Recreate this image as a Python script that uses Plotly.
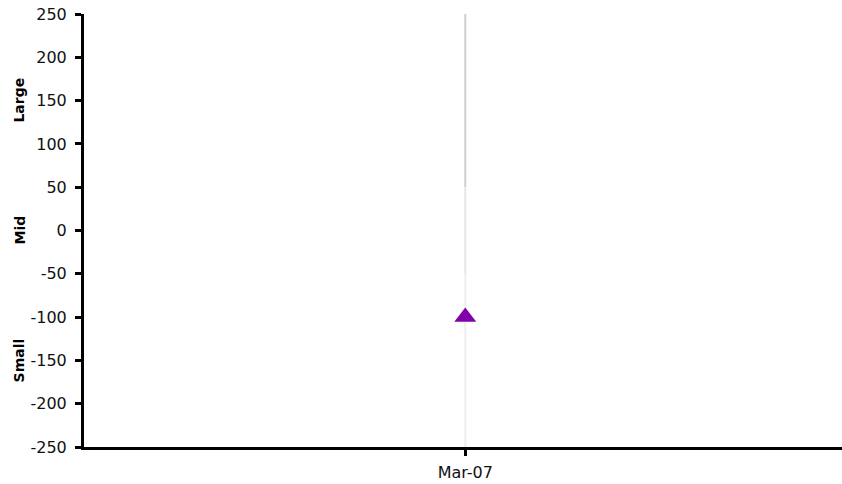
import plotly.graph_objects as go

categories = ["Mar-07"]
values = [-100]
band_edges = [250, 50, -50, -250]
band_colors = ["#cfcfcf", "#e6e6e6", "#efefef"]
band_labels = ["Large", "Mid", "Small"]
band_centers = [150, 0, -150]
tick_vals = [250, 200, 150, 100, 50, 0, -50, -100, -150, -200, -250]
tick_text = [str(v) for v in tick_vals]

fig = go.Figure()
for i, col in enumerate(band_colors):
    fig.add_trace(go.Scatter(
        x=[categories[0], categories[0]],
        y=[band_edges[i], band_edges[i + 1]],
        mode="lines", line=dict(color=col, width=2),
        hoverinfo="skip", showlegend=False))

fig.add_trace(go.Scatter(
    x=categories, y=values, mode="markers",
    marker=dict(symbol="triangle-up", size=19, color="#8200a8"),
    showlegend=False))

for lab, c in zip(band_labels, band_centers):
    fig.add_annotation(x=0.0, xref="paper", xanchor="center", xshift=-65,
                       y=c, yref="y", text=f"<b>{lab}</b>", textangle=-90,
                       showarrow=False, font=dict(size=14, color="black"))

fig.update_layout(
    width=842, height=484,
    margin=dict(l=84, r=0, t=14, b=37),
    plot_bgcolor="white", paper_bgcolor="white",
    font=dict(family="DejaVu Sans, Verdana, sans-serif", size=16, color="#111"),
    xaxis=dict(type="category", range=[-0.503, 0.497], showgrid=False, zeroline=False,
               automargin=False, ticklabeloverflow="allow", ticklabelstandoff=3,
               showline=True, linecolor="black", linewidth=3,
               ticks="outside", ticklen=6, tickwidth=3, tickcolor="black"),
    yaxis=dict(range=[-250, 250], tickvals=tick_vals, ticktext=tick_text,
               showgrid=False, zeroline=False, automargin=False,
               ticklabeloverflow="allow", ticklabelstandoff=5,
               showline=True, linecolor="black", linewidth=3,
               ticks="outside", ticklen=6, tickwidth=3, tickcolor="black"),
)
fig.write_html("out.html", config={"displayModeBar": False},
               post_script="document.body.style.margin='0';document.body.style.overflow='hidden';")
